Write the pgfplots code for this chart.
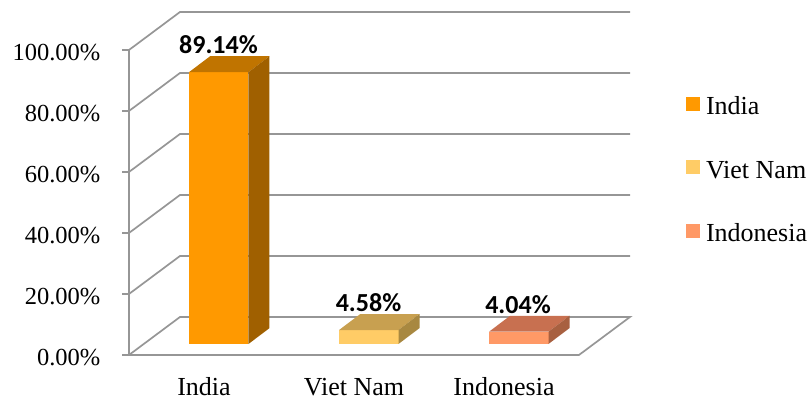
\documentclass[border=0pt]{standalone}
\usepackage{fontspec}
\setmainfont{Liberation Serif}
\newfontfamily\lblfont{Carlito}
\usepackage{pgfplots}
\pgfplotsset{compat=1.18}
\definecolor{gridc}{RGB}{150,150,150}
\definecolor{inF}{RGB}{255,153,0}
\definecolor{inT}{RGB}{192,116,0}
\definecolor{inS}{RGB}{160,96,0}
\definecolor{vnF}{RGB}{255,204,102}
\definecolor{vnT}{RGB}{200,160,80}
\definecolor{vnS}{RGB}{168,136,64}
\definecolor{idF}{RGB}{255,153,102}
\definecolor{idT}{RGB}{200,112,80}
\definecolor{idS}{RGB}{168,96,64}
\pgfplotsset{sqlegend/.style={legend image code/.code={\fill[##1, draw=none] (0pt,-4pt) rectangle (14pt,10pt);}}}
\begin{document}
\begin{tikzpicture}
\begin{axis}[
  scale only axis, width=501pt, height=343pt,
  xmin=129, xmax=630, ymin=0, ymax=112.46,
  clip=false,
  axis line style={draw=none},
  ytick={0,20,40,60,80,100}, ytick pos=left,
  xtick={204,354,504}, xticklabels={India,Viet Nam,Indonesia}, xtick pos=bottom,
  tick align=outside, major tick length=6.5pt,
  ytick style={draw=gridc, line width=1.7pt},
  xtick style={draw=none},
  /pgf/number format/assume math mode=true,
  yticklabel={\pgfmathprintnumber[fixed,fixed zerofill,precision=2]{\tick}\%},
  yticklabel style={font=\fontsize{24.5}{28}\selectfont, inner sep=0pt, xshift=-22pt, yshift=-3pt},
  xticklabel style={font=\fontsize{26}{30}\selectfont, inner sep=0pt, anchor=base, yshift=-34pt},
  legend style={draw=none, fill=none, at={(axis description cs:1.1118,0.5394)}, anchor=west,
    inner sep=0pt, outer sep=0pt, font=\fontsize{26}{30}\selectfont, row sep=44pt,
    nodes={inner sep=0pt},
    /tikz/every odd column/.append style={column sep=6pt}},
  legend cell align=left,
]
\addlegendimage{sqlegend, fill=inF}
\addlegendimage{sqlegend, fill=vnF}
\addlegendimage{sqlegend, fill=idF}
\legend{India, Viet Nam, Indonesia}

% walls and floor
\addplot[gridc, line width=1.7pt, forget plot] coordinates {(129,20)(180,32.46)(630,32.46)};
\addplot[gridc, line width=1.7pt, forget plot] coordinates {(129,40)(180,52.46)(630,52.46)};
\addplot[gridc, line width=1.7pt, forget plot] coordinates {(129,60)(180,72.46)(630,72.46)};
\addplot[gridc, line width=1.7pt, forget plot] coordinates {(129,80)(180,92.46)(630,92.46)};
\addplot[gridc, line width=1.7pt, forget plot] coordinates {(129,100)(180,112.46)(630,112.46)};
\addplot[gridc, line width=1.7pt, forget plot] coordinates {(129,0)(180,12.46)(630,12.46)(579,0)(129,0)(129,100)};

% India
\addplot[fill=inF, draw=none, forget plot] coordinates {(189.1,3.61)(248.5,3.61)(248.5,92.75)(189.1,92.75)};
\addplot[fill=inT, draw=none, forget plot] coordinates {(189.1,92.75)(248.5,92.75)(269.5,97.95)(210.1,97.95)};
\addplot[fill=inS, draw=none, forget plot] coordinates {(248.5,3.61)(269.5,8.81)(269.5,97.95)(248.5,92.75)};
% Viet Nam
\addplot[fill=vnF, draw=none, forget plot] coordinates {(339.1,3.61)(398.5,3.61)(398.5,8.19)(339.1,8.19)};
\addplot[fill=vnT, draw=none, forget plot] coordinates {(339.1,8.19)(398.5,8.19)(419.5,13.39)(360.1,13.39)};
\addplot[fill=vnS, draw=none, forget plot] coordinates {(398.5,3.61)(419.5,8.81)(419.5,13.39)(398.5,8.19)};
% Indonesia
\addplot[fill=idF, draw=none, forget plot] coordinates {(489.1,3.61)(548.5,3.61)(548.5,7.65)(489.1,7.65)};
\addplot[fill=idT, draw=none, forget plot] coordinates {(489.1,7.65)(548.5,7.65)(569.5,12.85)(510.1,12.85)};
\addplot[fill=idS, draw=none, forget plot] coordinates {(548.5,3.61)(569.5,8.81)(569.5,12.85)(548.5,7.65)};

% data labels
\addplot[draw=none, mark=none, forget plot, point meta=explicit symbolic, nodes near coords,
  nodes near coords style={font=\lblfont\bfseries\fontsize{26}{30}\selectfont, anchor=center, inner sep=0pt}]
  coordinates {(218.5,101.64)[89.14\%] (368.5,17.05)[4.58\%] (518,16.52)[4.04\%]};

\coordinate (bbSW) at (axis cs:0,-15.08);
\coordinate (bbNE) at (axis cs:812,116.39);
\end{axis}
\pgfresetboundingbox
\path[use as bounding box] (bbSW) rectangle (bbNE);
\end{tikzpicture}
\end{document}
